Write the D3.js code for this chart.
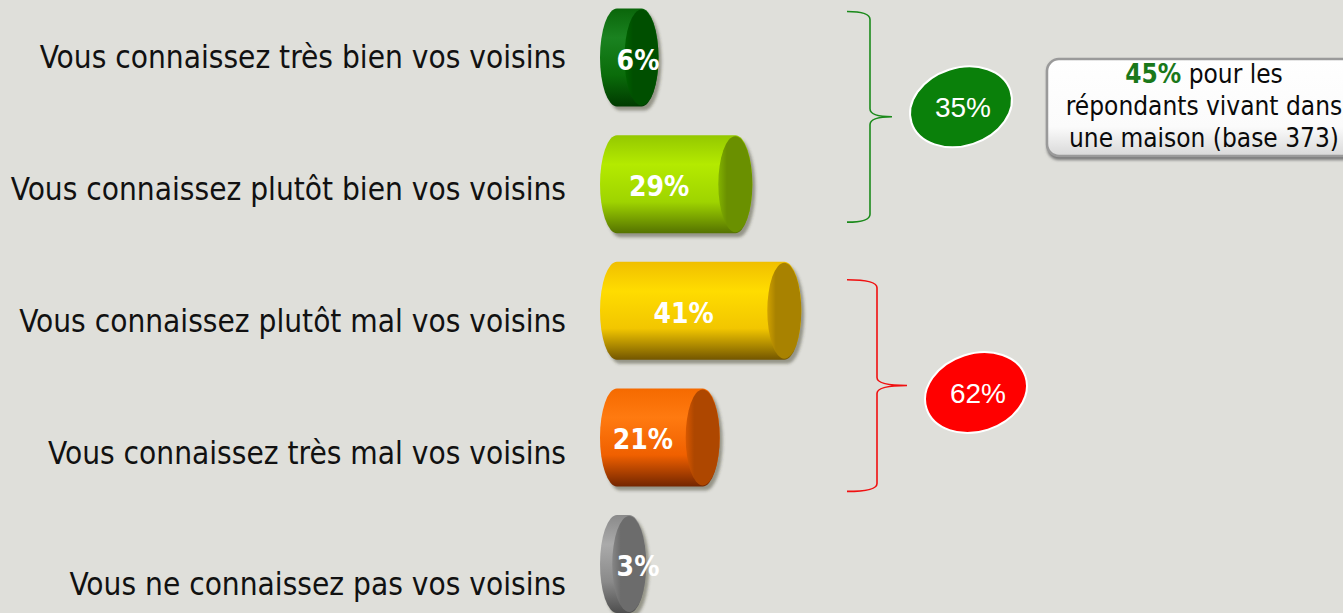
<!DOCTYPE html>
<html lang="fr">
<head>
  <meta charset="UTF-8">
  <title>Connaissance des voisins</title>
  <script src="https://d3js.org/d3.v7.min.js"></script>
  <style>
    html, body {
      margin: 0;
      padding: 0;
      background: #dfdfda;
      overflow: hidden;
    }
    .cat-label {
      font-family: "DejaVu Sans Condensed", "DejaVu Sans", sans-serif;
      font-stretch: condensed;
      font-size: 31.3px;
      fill: #111;
    }
    .bar-label {
      font-family: "DejaVu Sans Condensed", "DejaVu Sans", sans-serif;
      font-stretch: condensed;
      font-weight: bold;
      font-size: 28px;
      fill: #fff;
    }
    .group-label {
      font-family: "Liberation Sans", Arial, sans-serif;
      font-size: 28px;
      fill: #fff;
    }
    .callout-text {
      font-family: "DejaVu Sans Condensed", "DejaVu Sans", sans-serif;
      font-stretch: condensed;
      font-size: 26px;
      fill: #0a0a0a;
    }
  </style>
</head>
<body>
  <div id="chart"></div>

  <script>
    // Data
    const categories = [
      "Vous connaissez très bien vos voisins",
      "Vous connaissez plutôt bien vos voisins",
      "Vous connaissez plutôt mal vos voisins",
      "Vous connaissez très mal vos voisins",
      "Vous ne connaissez pas vos voisins"
    ];
    const values = [6, 29, 41, 21, 3];

    const groupLabels = ["35%", "62%"];
    const groupMembers = [[0, 1], [2, 3]];

    const calloutHighlight = "45%";
    const calloutLines = ["pour les", "répondants vivant dans", "une maison (base 373)"];

    // Styles
    const barStyles = [
      { top: "#0a660a", upper: "#1a8220", mid: "#0a6c0a", bot: "#003a00", cap: "#004f00" },
      { top: "#94c800", upper: "#b4ea00", mid: "#9fd400", bot: "#557300", cap: "#6a9000" },
      { top: "#f0bf00", upper: "#ffdc00", mid: "#f2c600", bot: "#735600", cap: "#a88200" },
      { top: "#f56a00", upper: "#ff7a10", mid: "#f06000", bot: "#742600", cap: "#ae4700" },
      { top: "#8a8a8a", upper: "#aaaaaa", mid: "#8a8a8a", bot: "#4e4e4e", cap: "#6c6c6c" }
    ];
    const groupColors = ["#0a800a", "#ff0000"];
    const bracketColors = ["#1b8a1b", "#f01010"];
    const bracketLayout = [
      { top: -46, bottom: 38, x: 870, tip: 892, dy: -10 },
      { top: -31, bottom: 54, x: 877, tip: 907, dy: 7 }
    ];

    const width = 1343;
    const height = 613;
    const barLeft = 600;
    const rx = 17;
    const ry = 49;

    const svg = d3.select("#chart")
      .append("svg")
      .attr("width", width)
      .attr("height", height);

    svg.append("rect")
      .attr("width", width)
      .attr("height", height)
      .attr("fill", "#dfdfda");

    const defs = svg.append("defs");

    // Scales
    const x = d3.scaleLinear().domain([0, 100]).range([barLeft + rx, barLeft + rx + 408]);
    const y = d3.scalePoint().domain(categories).range([57.5, 564]);
    const yLabel = d3.scalePoint().domain(categories).range([57, 584]);

    barStyles.forEach((s, i) => {
      const g = defs.append("linearGradient")
        .attr("id", "body" + i)
        .attr("x1", 0).attr("y1", 0).attr("x2", 0).attr("y2", 1);
      g.append("stop").attr("offset", "0%").attr("stop-color", s.top);
      g.append("stop").attr("offset", "30%").attr("stop-color", s.upper);
      g.append("stop").attr("offset", "68%").attr("stop-color", s.mid);
      g.append("stop").attr("offset", "100%").attr("stop-color", s.bot);

      const c = defs.append("linearGradient")
        .attr("id", "cap" + i)
        .attr("x1", 0).attr("y1", 0).attr("x2", 1).attr("y2", 0);
      c.append("stop").attr("offset", "0%").attr("stop-color", d3.color(s.cap).brighter(0.6));
      c.append("stop").attr("offset", "25%").attr("stop-color", s.cap);
      c.append("stop").attr("offset", "100%").attr("stop-color", s.cap);
    });

    defs.append("filter")
      .attr("id", "blur")
      .append("feGaussianBlur")
      .attr("stdDeviation", 1.5);

    const bodyPath = (d, i) => {
      const cy = y(categories[i]);
      const x0 = x(0);
      const xe = x(d);
      return `M${x0},${cy - ry} L${xe},${cy - ry} A${rx},${ry} 0 0 1 ${xe},${cy + ry} ` +
             `L${x0},${cy + ry} A${rx},${ry} 0 0 1 ${x0},${cy - ry} Z`;
    };

    // Category labels
    svg.selectAll(".cat-label")
      .data(categories)
      .enter()
      .append("text")
      .attr("class", "cat-label")
      .attr("x", 566)
      .attr("y", d => yLabel(d))
      .attr("dy", "0.36em")
      .attr("text-anchor", "end")
      .text(d => d);

    // Cylinders
    const bars = svg.selectAll(".bar")
      .data(values)
      .enter()
      .append("g")
      .attr("class", "bar");

    bars.append("path")
      .attr("d", bodyPath)
      .attr("transform", "translate(3,4)")
      .attr("fill", "rgba(60,60,40,0.45)")
      .attr("filter", "url(#blur)");

    bars.append("path")
      .attr("d", bodyPath)
      .attr("fill", (d, i) => `url(#body${i})`);

    bars.append("ellipse")
      .attr("cx", d => x(d))
      .attr("cy", (d, i) => y(categories[i]))
      .attr("rx", rx)
      .attr("ry", ry - 1)
      .attr("fill", (d, i) => `url(#cap${i})`);

    bars.append("text")
      .attr("class", "bar-label")
      .attr("x", d => Math.max((x(d) + barLeft - rx) / 2, 638))
      .attr("y", (d, i) => y(categories[i]) + 12)
      .attr("text-anchor", "middle")
      .text(d => d + "%");

    // Brackets and group totals
    groupMembers.forEach((m, i) => {
      const L = bracketLayout[i];
      const top = y(categories[m[0]]) + L.top;
      const bot = y(categories[m[m.length - 1]]) + L.bottom;
      const mid = (top + bot) / 2;
      const left = 847;
      const r = 8;
      const p = d3.path();
      p.moveTo(left, top);
      p.quadraticCurveTo(L.x, top, L.x, top + r);
      p.lineTo(L.x, mid - r);
      p.quadraticCurveTo(L.x, mid, L.tip, mid);
      p.quadraticCurveTo(L.x, mid, L.x, mid + r);
      p.lineTo(L.x, bot - r);
      p.quadraticCurveTo(L.x, bot, left, bot);

      svg.append("path")
        .attr("d", p.toString())
        .attr("fill", "none")
        .attr("stroke", bracketColors[i])
        .attr("stroke-width", 1.6);

      const cx = L.tip + 69;
      const cy = mid + L.dy;
      svg.append("ellipse")
        .attr("cx", cx)
        .attr("cy", cy)
        .attr("rx", 52)
        .attr("ry", 39)
        .attr("transform", `rotate(-18,${cx},${cy})`)
        .attr("fill", groupColors[i])
        .attr("stroke", "#fff")
        .attr("stroke-width", 2);

      svg.append("text")
        .attr("class", "group-label")
        .attr("x", cx + 2)
        .attr("y", cy + 10)
        .attr("text-anchor", "middle")
        .text(groupLabels[i]);
    });

    // Callout box
    const boxGrad = defs.append("linearGradient")
      .attr("id", "boxGrad")
      .attr("x1", 0).attr("y1", 0).attr("x2", 0).attr("y2", 1);
    boxGrad.append("stop").attr("offset", "0%").attr("stop-color", "#ffffff");
    boxGrad.append("stop").attr("offset", "70%").attr("stop-color", "#fbfbfb");
    boxGrad.append("stop").attr("offset", "100%").attr("stop-color", "#d8d8d8");

    const callout = svg.append("g");
    callout.append("rect")
      .attr("x", 1047)
      .attr("y", 60)
      .attr("width", 330)
      .attr("height", 100)
      .attr("rx", 12)
      .attr("fill", "#777")
      .attr("filter", "url(#blur)");
    callout.append("rect")
      .attr("x", 1047)
      .attr("y", 59)
      .attr("width", 330)
      .attr("height", 97)
      .attr("rx", 12)
      .attr("fill", "url(#boxGrad)")
      .attr("stroke", "#9a9a9a")
      .attr("stroke-width", 2.5);

    const line1 = callout.append("text")
      .attr("class", "callout-text")
      .attr("x", 1204)
      .attr("y", 83)
      .attr("text-anchor", "middle");
    line1.append("tspan")
      .attr("font-weight", "bold")
      .attr("fill", "#1a781a")
      .text(calloutHighlight);
    line1.append("tspan").text(" " + calloutLines[0]);

    callout.selectAll(".more")
      .data(calloutLines.slice(1))
      .enter()
      .append("text")
      .attr("class", "callout-text more")
      .attr("x", 1204)
      .attr("y", (d, i) => 115 + i * 32)
      .attr("text-anchor", "middle")
      .text(d => d);
  </script>
</body>
</html>
